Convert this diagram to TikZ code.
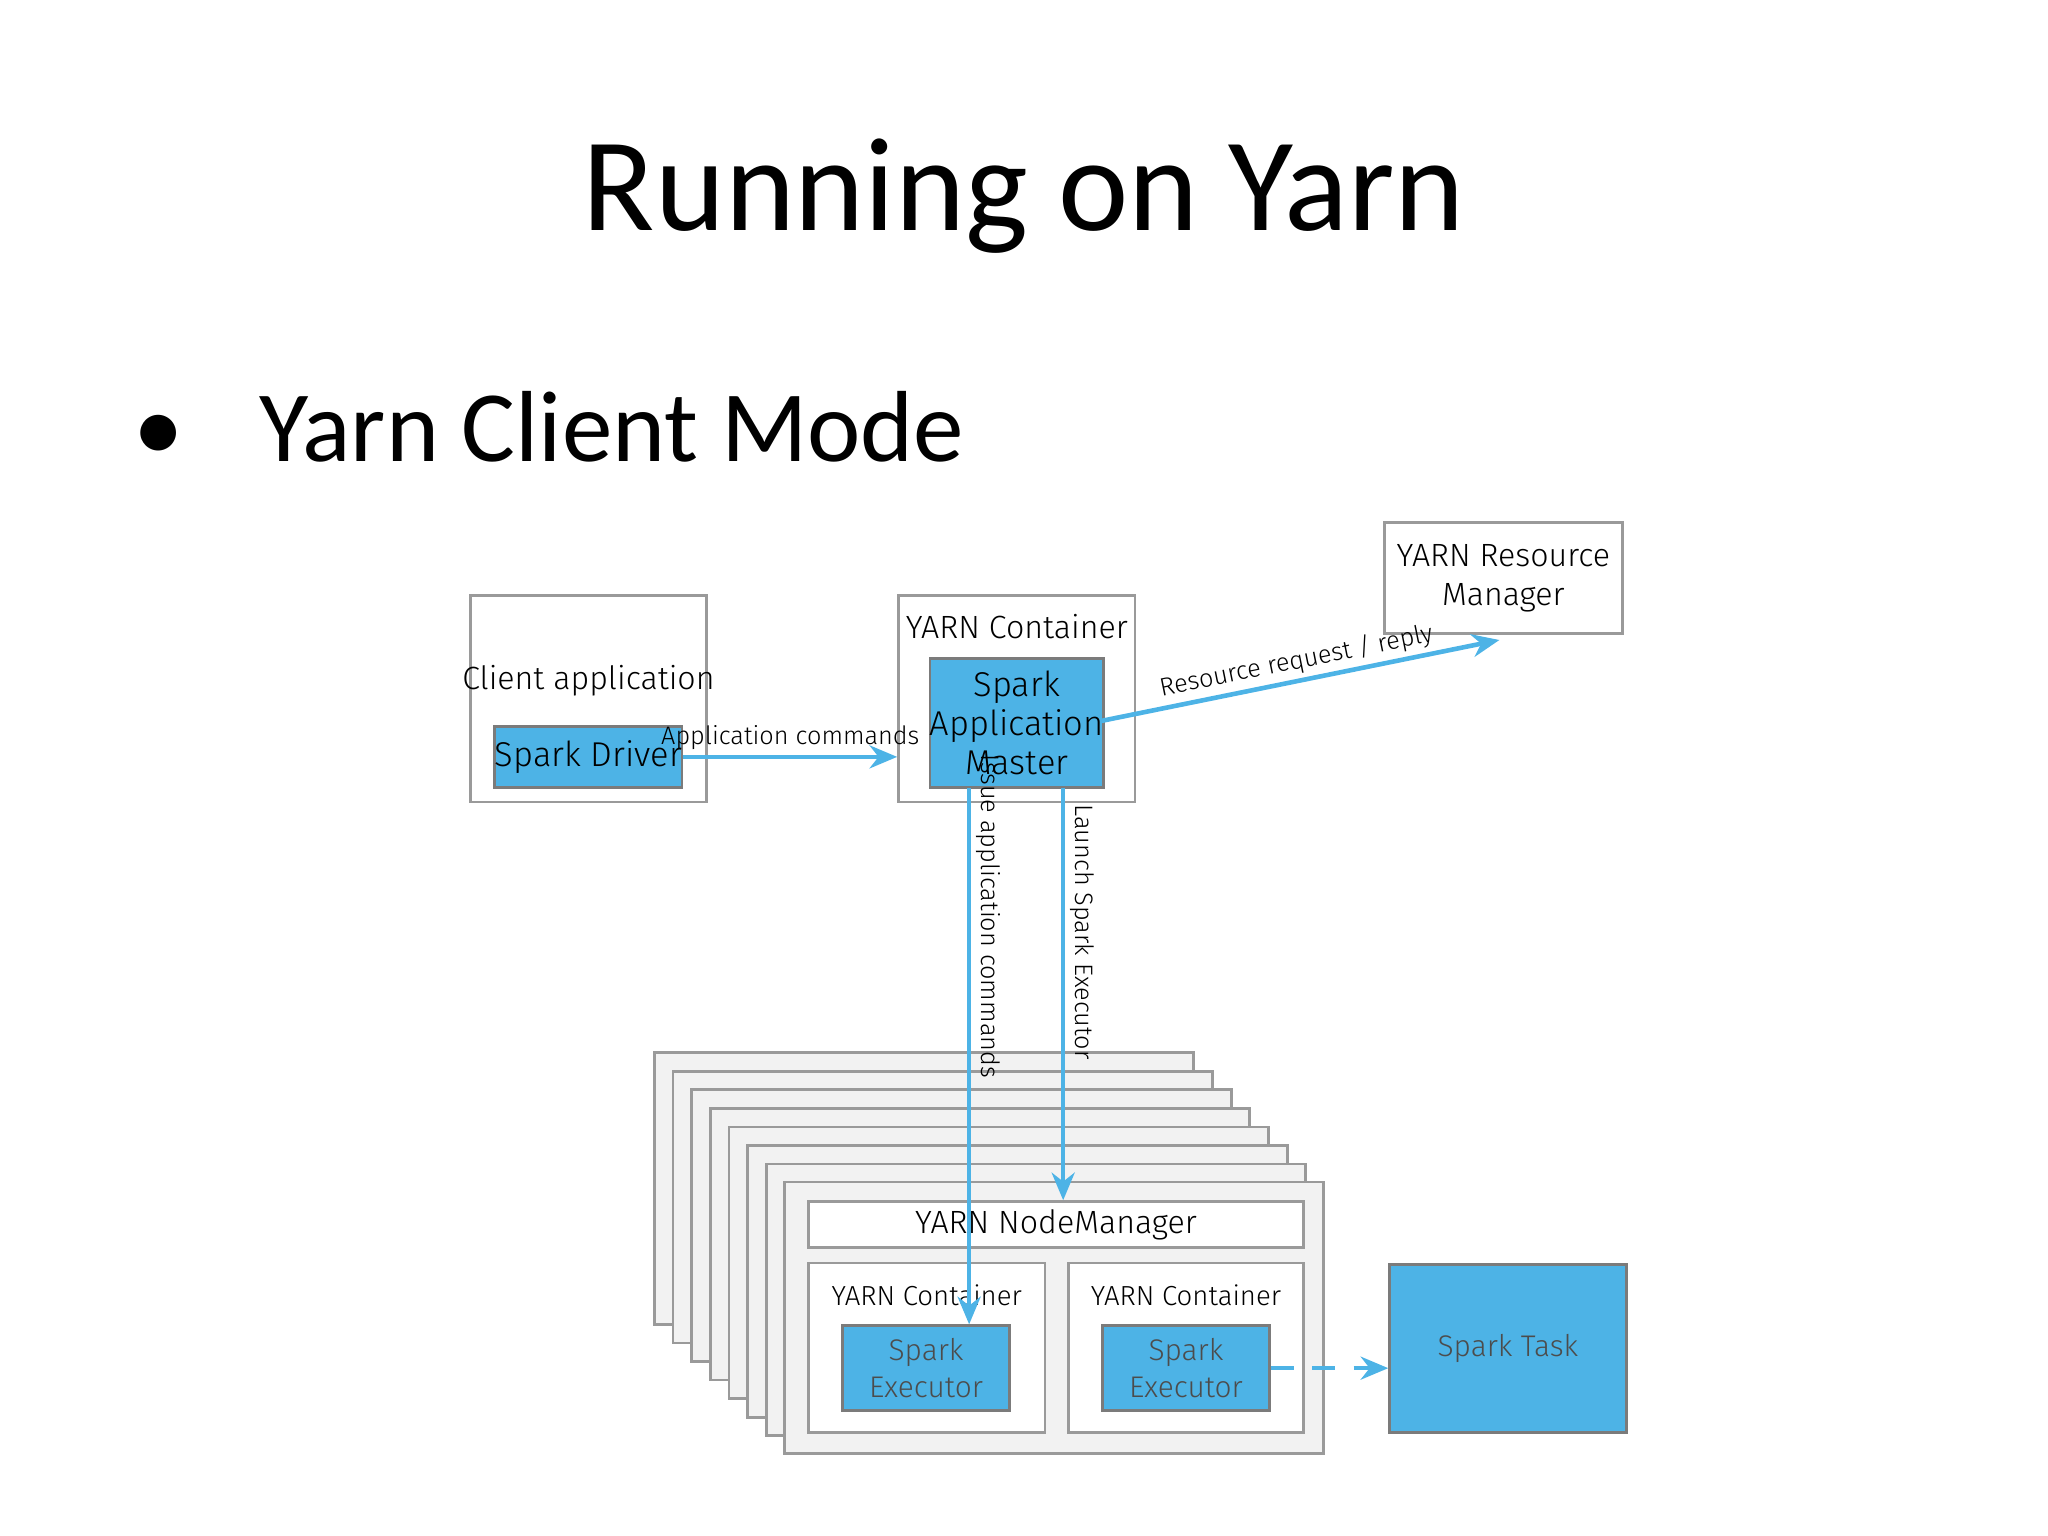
\documentclass[tikz,border=0pt]{standalone}
\usepackage{fontspec}
\setmainfont{Carlito}
\newfontfamily\dg{Fira Sans Light}
\usetikzlibrary{arrows.meta}
\definecolor{sb}{HTML}{4DB3E6}
\definecolor{bd}{HTML}{9A9A9A}
\begin{document}
\begin{tikzpicture}[x=0.01cm,y=-0.01cm,
  box/.style={draw=bd,fill=white,line width=0.6pt,inner sep=0pt},
  blu/.style={draw=bd!80!black,fill=sb,line width=0.6pt,inner sep=0pt,align=center,font=\dg\fontsize{6.5}{7.5}\selectfont},
  lay/.style={draw=bd,fill=gray!10,line width=0.6pt},
  lbl/.style={font=\dg\fontsize{5.5}{6.5}\selectfont,inner sep=1pt},
  arr/.style={draw=sb,line width=1pt,-{Stealth[length=6pt,width=5pt]}}]
\useasboundingbox (0,0) rectangle (1568,1176);
\node[font=\fontsize{29}{34}\selectfont] (title) at (784,150) {Running on Yarn};
\node[font=\fontsize{22}{26}\selectfont,anchor=west] (bul) at (90,327) {\textbullet\hspace{0.75em}Yarn Client Mode};
% client
\node[box,minimum width=1.81cm,minimum height=1.58cm] (client) at (450.5,535) {};
\node[font=\dg\fontsize{7}{8}\selectfont] (clt) at (450.5,521) {Client application};
\node[blu,minimum width=1.29cm,minimum height=0.47cm,font=\dg\fontsize{7.5}{8}\selectfont] (drv) at (450.5,579.5) {Spark Driver};
% yarn container top
\node[box,minimum width=1.81cm,minimum height=1.58cm] (yc) at (778.5,535) {};
\node[font=\dg\fontsize{7}{8}\selectfont] (yct) at (778.5,480) {YARN Container};
\node[blu,minimum width=1.29cm,minimum height=0.99cm,font=\dg\fontsize{7.5}{8.5}\selectfont] (am) at (778.5,553.5) {Spark\\Application\\Master};
% RM
\node[box,minimum width=1.82cm,minimum height=0.85cm,align=center,font=\dg\fontsize{7}{8.5}\selectfont] (rm) at (1151,442.5) {YARN Resource\\Manager};
% layers
\foreach \i in {0,...,6}{
  \draw[lay] ({501+14.3*\i},{806+14.2*\i}) rectangle ({914+14.3*\i},{1014+14.2*\i});
}
\node[lay,minimum width=4.12cm,minimum height=2.08cm,inner sep=0pt] (nmb) at (807,1009) {};
\node[box,minimum width=3.79cm,minimum height=0.35cm,font=\dg\fontsize{7}{8}\selectfont] (nm) at (808.5,937.5) {YARN NodeManager};
\node[box,minimum width=1.81cm,minimum height=1.30cm] (c1) at (709.5,1032) {};
\node[font=\dg\fontsize{6}{7}\selectfont] (c1t) at (709.5,992) {YARN Container};
\node[blu,minimum width=1.28cm,minimum height=0.65cm,font=\dg\fontsize{6.5}{8}\selectfont,text=black!70] (e1) at (709,1047.5) {Spark\\Executor};
\node[box,minimum width=1.80cm,minimum height=1.30cm] (c2) at (908,1032) {};
\node[font=\dg\fontsize{6}{7}\selectfont] (c2t) at (908,992) {YARN Container};
\node[blu,minimum width=1.28cm,minimum height=0.65cm,font=\dg\fontsize{6.5}{8}\selectfont,text=black!70] (e2) at (908,1047.5) {Spark\\Executor};
\node[blu,minimum width=1.81cm,minimum height=1.29cm,font=\dg\fontsize{6.5}{8}\selectfont,text=black!70] (task) at (1154.5,1032.5) {Spark Task};
% arrows
\draw[arr] (drv.east) -- node[lbl,above] {Application commands} (yc.west|-drv.east);
\coordinate (rmp) at (1148,490);
\draw[arr] (843,552) -- node[lbl,above,sloped] {Resource request / reply} (rmp);
\draw[arr] (742,603) -- node[lbl,above,sloped,pos=0.24] {Issue application commands} (e1.north-|742,0);
\draw[arr] (814,603) -- node[lbl,above,sloped,pos=0.35] {Launch Spark Executor} (nm.north-|814,0);
\draw[arr,dashed,dash pattern=on 5pt off 4pt] (e2.east) -- (task.west|-e2.east);
\end{tikzpicture}
\end{document}
